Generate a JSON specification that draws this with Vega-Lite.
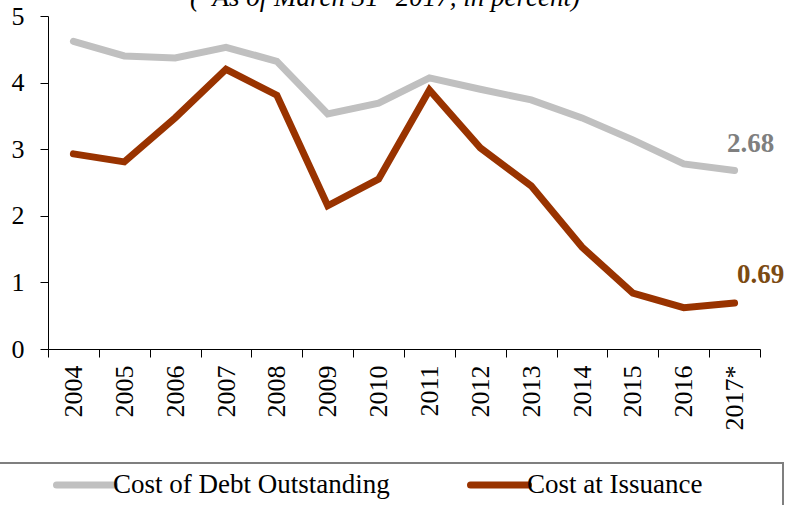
{
  "$schema": "https://vega.github.io/schema/vega-lite/v6.json",
  "autosize": "none",
  "width": 712,
  "height": 333,
  "padding": {"left": 48, "top": 16, "right": 29, "bottom": 156},
  "background": "white",
  "title": {
    "text": "(*As of March 31ˢᵗ 2017, in percent)",
    "font": "Liberation Serif",
    "fontSize": 27,
    "fontStyle": "italic",
    "fontWeight": "normal",
    "color": "black",
    "anchor": "start",
    "frame": "group",
    "dx": 142,
    "dy": 10,
    "baseline": "alphabetic",
    "offset": -20
  },
  "config": {
    "view": {"stroke": null},
    "font": "Liberation Serif",
    "axis": {"grid": false, "domainColor": "black", "tickColor": "black", "labelColor": "black", "labelFont": "Liberation Serif"},
    "legend": {"strokeWidth": 2}
  },
  "data": {
    "values": [
      {"year": "2004", "series": "Cost of Debt Outstanding", "value": 4.62},
      {"year": "2005", "series": "Cost of Debt Outstanding", "value": 4.40},
      {"year": "2006", "series": "Cost of Debt Outstanding", "value": 4.37},
      {"year": "2007", "series": "Cost of Debt Outstanding", "value": 4.53},
      {"year": "2008", "series": "Cost of Debt Outstanding", "value": 4.32},
      {"year": "2009", "series": "Cost of Debt Outstanding", "value": 3.53},
      {"year": "2010", "series": "Cost of Debt Outstanding", "value": 3.69},
      {"year": "2011", "series": "Cost of Debt Outstanding", "value": 4.07},
      {"year": "2012", "series": "Cost of Debt Outstanding", "value": 3.90},
      {"year": "2013", "series": "Cost of Debt Outstanding", "value": 3.74},
      {"year": "2014", "series": "Cost of Debt Outstanding", "value": 3.47},
      {"year": "2015", "series": "Cost of Debt Outstanding", "value": 3.14},
      {"year": "2016", "series": "Cost of Debt Outstanding", "value": 2.78},
      {"year": "2017*", "series": "Cost of Debt Outstanding", "value": 2.68},
      {"year": "2004", "series": "Cost at Issuance", "value": 2.93},
      {"year": "2005", "series": "Cost at Issuance", "value": 2.81},
      {"year": "2006", "series": "Cost at Issuance", "value": 3.47},
      {"year": "2007", "series": "Cost at Issuance", "value": 4.20},
      {"year": "2008", "series": "Cost at Issuance", "value": 3.81},
      {"year": "2009", "series": "Cost at Issuance", "value": 2.15},
      {"year": "2010", "series": "Cost at Issuance", "value": 2.55},
      {"year": "2011", "series": "Cost at Issuance", "value": 3.89},
      {"year": "2012", "series": "Cost at Issuance", "value": 3.02},
      {"year": "2013", "series": "Cost at Issuance", "value": 2.45},
      {"year": "2014", "series": "Cost at Issuance", "value": 1.53},
      {"year": "2015", "series": "Cost at Issuance", "value": 0.84},
      {"year": "2016", "series": "Cost at Issuance", "value": 0.62},
      {"year": "2017*", "series": "Cost at Issuance", "value": 0.69}
    ]
  },
  "encoding": {
    "x": {
      "field": "year", "type": "ordinal", "sort": null,
      "scale": {"paddingInner": 0, "paddingOuter": 0},
      "axis": {"title": null, "labelAngle": -90, "labelFontSize": 26, "labelPadding": 8, "tickSize": 8, "tickBand": "extent", "domainWidth": 1}
    },
    "y": {
      "field": "value", "type": "quantitative",
      "scale": {"domain": [0, 5], "nice": false},
      "axis": {"title": null, "values": [0, 1, 2, 3, 4, 5], "labelFontSize": 26, "labelPadding": 16, "tickSize": 8, "domainWidth": 1}
    }
  },
  "layer": [
    {
      "mark": {"type": "line", "strokeWidth": 7, "strokeCap": "round", "strokeJoin": "miter"},
      "encoding": {
        "color": {
          "field": "series", "type": "nominal",
          "scale": {"domain": ["Cost of Debt Outstanding", "Cost at Issuance"], "range": ["#c0c0c0", "#993300"]},
          "legend": {
            "title": "x",
            "titleOpacity": 0,
            "titleFontSize": 8,
            "titleOrient": "left",
            "titlePadding": 45,
            "orient": "none",
            "direction": "horizontal",
            "legendX": -51,
            "legendY": 447,
            "padding": 7,
            "clipHeight": 30,
            "strokeColor": "#7f7f7f",
            "symbolType": "stroke",
            "symbolSize": 3364,
            "symbolStrokeWidth": 7,
            "labelFont": "Liberation Serif",
            "labelFontSize": 27,
            "labelColor": "black",
            "labelOffset": -5,
            "labelLimit": 0,
            "columnPadding": 77,
            "labelExpr": "datum.label == 'Cost at Issuance' ? datum.label + '\u00a0\u00a0\u2800\u2800\u2800' : datum.label",
            "encode": {"symbols": {"update": {"strokeCap": {"value": "round"}}}}
          }
        }
      }
    },
    {
      "transform": [{"filter": "datum.year == '2017*' && datum.series == 'Cost of Debt Outstanding'"}],
      "mark": {"type": "text", "font": "Liberation Serif", "fontSize": 27, "fontWeight": "bold", "color": "#7f7f7f", "align": "center", "baseline": "alphabetic", "dx": 16, "dy": -19},
      "encoding": {"text": {"field": "value", "type": "quantitative", "format": ".2f"}}
    },
    {
      "transform": [{"filter": "datum.year == '2017*' && datum.series == 'Cost at Issuance'"}],
      "mark": {"type": "text", "font": "Liberation Serif", "fontSize": 27, "fontWeight": "bold", "color": "#7b4a12", "align": "center", "baseline": "alphabetic", "dx": 26, "dy": -20},
      "encoding": {"text": {"field": "value", "type": "quantitative", "format": ".2f"}}
    }
  ]
}
